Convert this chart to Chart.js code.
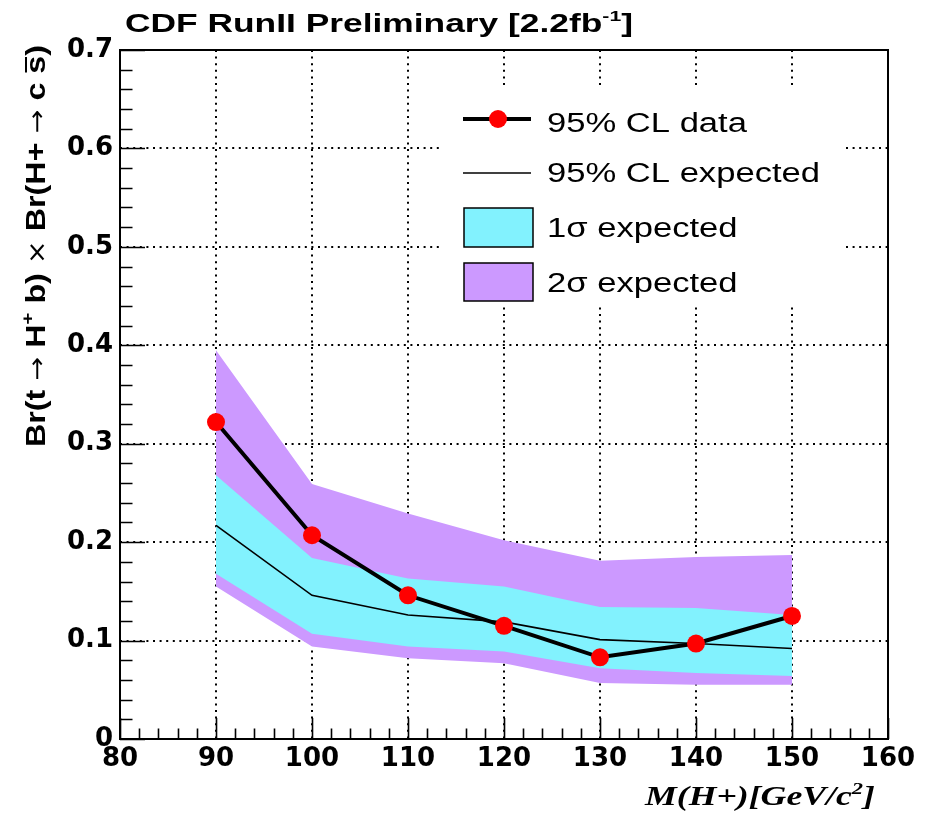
<!DOCTYPE html>
<html>
<head>
<meta charset="utf-8">
<script src="https://cdn.jsdelivr.net/npm/chart.js@4.4.1/dist/chart.umd.min.js"></script>
<style>
  html, body { margin: 0; padding: 0; background: #ffffff; }
  canvas { display: block; }
</style>
</head>
<body>
<canvas id="limits" width="927" height="815"></canvas>
<script>
// Charged Higgs mass points (GeV/c^2)
const masses = [90, 100, 110, 120, 130, 140, 150];

// 95% CL upper limits on Br(t -> H+ b) x Br(H+ -> c sbar)
const observedLimit = [0.322, 0.207, 0.146, 0.115, 0.083, 0.097, 0.125];
const expectedLimit = [0.217, 0.146, 0.126, 0.119, 0.101, 0.097, 0.092];

// Expected-limit bands
const oneSigmaUp   = [0.268, 0.184, 0.163, 0.155, 0.134, 0.133, 0.126];
const oneSigmaDown = [0.168, 0.107, 0.094, 0.089, 0.072, 0.067, 0.064];
const twoSigmaUp   = [0.395, 0.259, 0.229, 0.202, 0.181, 0.185, 0.187];
const twoSigmaDown = [0.155, 0.094, 0.082, 0.077, 0.057, 0.055, 0.055];

// Axis tick labels
const xTickLabels = ['80', '90', '100', '110', '120', '130', '140', '150', '160'];
const yTickLabels = ['0', '0.1', '0.2', '0.3', '0.4', '0.5', '0.6', '0.7'];

// Legend entries
const legendLabels = ['95% CL data', '95% CL expected', '1\u03c3 expected', '2\u03c3 expected'];

const CYAN = '#82F2FE';
const PURPLE = '#CC99FF';
const SANS = '"Liberation Sans", Arial, Helvetica, sans-serif';
const SERIF = '"Liberation Serif", "Times New Roman", serif';
const SYMB = '"DejaVu Sans", sans-serif';

const toPoints = vals => masses.map((m, i) => ({ x: m, y: vals[i] }));

// Draws a run of text pieces along a baseline, stretched horizontally by sx.
function drawRuns(ctx, runs, sx) {
  ctx.save();
  ctx.scale(sx, 1);
  let cx = 0;
  for (const r of runs) {
    ctx.font = r.font;
    const w = ctx.measureText(r.t).width;
    ctx.fillText(r.t, cx, r.dy || 0);
    if (r.bar) {
      ctx.lineWidth = 2;
      ctx.beginPath();
      ctx.moveTo(cx + 1, r.bar);
      ctx.lineTo(cx + w - 1, r.bar);
      ctx.stroke();
    }
    cx += w;
  }
  ctx.restore();
}
function runsWidth(ctx, runs) {
  let w = 0;
  for (const r of runs) { ctx.font = r.font; w += ctx.measureText(r.t).width; }
  return w;
}

// Frame, inward ticks, legend and titles in the ROOT style
const rootStyle = {
  id: 'rootStyle',
  afterDatasetsDraw(chart) {
    const { ctx, chartArea: a, scales: { x, y } } = chart;
    ctx.save();
    ctx.fillStyle = '#000';
    ctx.strokeStyle = '#000';
    ctx.textAlign = 'left';
    ctx.textBaseline = 'alphabetic';

    // legend
    ctx.fillStyle = '#ffffff';
    ctx.fillRect(443, 87, 402, 218);
    ctx.strokeStyle = '#000';
    ctx.lineWidth = 4;
    ctx.beginPath(); ctx.moveTo(463, 119); ctx.lineTo(531, 119); ctx.stroke();
    ctx.fillStyle = '#ff0000';
    ctx.beginPath(); ctx.arc(498, 119, 9, 0, Math.PI * 2); ctx.fill();
    ctx.lineWidth = 1.5;
    ctx.beginPath(); ctx.moveTo(463, 173); ctx.lineTo(531, 173); ctx.stroke();
    ctx.fillStyle = CYAN;
    ctx.fillRect(464, 208, 69, 39);
    ctx.strokeRect(464, 208, 69, 39);
    ctx.fillStyle = PURPLE;
    ctx.fillRect(464, 263, 69, 38);
    ctx.strokeRect(464, 263, 69, 38);

    ctx.fillStyle = '#000';
    const legFont = '27px ' + SANS;
    ctx.font = legFont;
    const legSx = 273 / ctx.measureText(legendLabels[1]).width;
    const baselines = [131.5, 181.5, 236.5, 291.5];
    legendLabels.forEach((t, i) => {
      ctx.save();
      ctx.translate(547, baselines[i]);
      drawRuns(ctx, [{ t, font: legFont }], legSx);
      ctx.restore();
    });

    // frame
    ctx.lineWidth = 2;
    ctx.strokeRect(a.left, a.top, a.right - a.left, a.bottom - a.top);

    // inward major/minor ticks
    ctx.lineWidth = 1.6;
    ctx.beginPath();
    for (let i = 0; i <= 35; i++) {
      const py = Math.round(y.getPixelForValue(i * 0.02)) + 0.5;
      const len = i % 5 === 0 ? 25 : 12.5;
      ctx.moveTo(a.left, py); ctx.lineTo(a.left + len, py);
    }
    for (let i = 0; i <= 40; i++) {
      const px = Math.round(x.getPixelForValue(80 + i * 2)) + 0.5;
      const len = i % 5 === 0 ? 21 : 10.5;
      ctx.moveTo(px, a.bottom); ctx.lineTo(px, a.bottom - len);
    }
    ctx.stroke();

    // plot title
    const tBig = 'bold 25px ' + SANS, tSmall = 'bold 15px ' + SANS;
    const titleRuns = [
      { t: 'CDF RunII Preliminary [2.2fb', font: tBig },
      { t: '-1', font: tSmall, dy: -11 },
      { t: ']', font: tBig }
    ];
    ctx.save();
    ctx.translate(125, 32);
    drawRuns(ctx, titleRuns, 508 / runsWidth(ctx, titleRuns));
    ctx.restore();

    // y-axis title
    const yB = 'bold 27px ' + SANS, yN = '24px ' + SYMB, yS = 'bold 17px ' + SANS;
    const yRuns = [
      { t: 'Br(t ', font: yB }, { t: '\u2192', font: yN }, { t: ' H', font: yB },
      { t: '+', font: yS, dy: -12 }, { t: ' b) ', font: yB }, { t: '\u00d7', font: yN },
      { t: ' Br(H+ ', font: yB }, { t: '\u2192', font: yN }, { t: ' c ', font: yB },
      { t: 's', font: yB, bar: -19 }, { t: ')', font: yB }
    ];
    ctx.save();
    ctx.translate(45, 447);
    ctx.rotate(-Math.PI / 2);
    drawRuns(ctx, yRuns, 402 / runsWidth(ctx, yRuns));
    ctx.restore();

    // x-axis title
    const xF = 'italic bold 27px ' + SERIF, xS = 'italic bold 17px ' + SERIF;
    const xRuns = [
      { t: 'M(H+)[GeV/c', font: xF },
      { t: '2', font: xS, dy: -11 },
      { t: ']', font: xF }
    ];
    ctx.save();
    ctx.translate(645, 805);
    drawRuns(ctx, xRuns, 230 / runsWidth(ctx, xRuns));
    ctx.restore();

    ctx.restore();
  }
};

const edgeColor = (edges) => (c) => (c.tick && edges.includes(Math.round(c.tick.value * 100) / 100)) ? 'rgba(0,0,0,0)' : '#000';

new Chart(document.getElementById('limits'), {
  type: 'line',
  data: {
    datasets: [
      {
        label: legendLabels[0], data: toPoints(observedLimit), order: 0,
        borderColor: '#000', borderWidth: 4, pointRadius: 9, pointHoverRadius: 9,
        pointBackgroundColor: '#ff0000', pointBorderWidth: 0, fill: false
      },
      {
        label: legendLabels[1], data: toPoints(expectedLimit), order: 1,
        borderColor: '#000', borderWidth: 1.6, pointRadius: 0, fill: false
      },
      {
        label: legendLabels[2], data: toPoints(oneSigmaUp), order: 2,
        borderColor: 'rgba(0,0,0,0)', borderWidth: 0, pointRadius: 0,
        backgroundColor: CYAN, fill: '+1'
      },
      {
        label: '1\u03c3 low', data: toPoints(oneSigmaDown), order: 3,
        borderColor: 'rgba(0,0,0,0)', borderWidth: 0, pointRadius: 0, fill: false
      },
      {
        label: legendLabels[3], data: toPoints(twoSigmaUp), order: 4,
        borderColor: 'rgba(0,0,0,0)', borderWidth: 0, pointRadius: 0,
        backgroundColor: PURPLE, fill: '+1'
      },
      {
        label: '2\u03c3 low', data: toPoints(twoSigmaDown), order: 5,
        borderColor: 'rgba(0,0,0,0)', borderWidth: 0, pointRadius: 0, fill: false
      }
    ]
  },
  options: {
    responsive: false,
    animation: false,
    events: [],
    layout: { padding: { left: 0, right: 39, top: 50, bottom: 0 } },
    plugins: {
      legend: { display: false },
      title: { display: false },
      tooltip: { enabled: false }
    },
    scales: {
      x: {
        type: 'linear', min: 80, max: 160,
        ticks: {
          stepSize: 10, padding: 5, color: '#000',
          font: { family: '"DejaVu Sans"', size: 26, weight: 'bold' },
          callback: (v, i) => xTickLabels[i]
        },
        grid: { color: edgeColor([80, 160]), lineWidth: 2, drawTicks: false },
        border: { display: false, dash: [2, 4.6] },
        afterFit: s => { s.height = 76; s.paddingLeft = 0; s.paddingRight = 0; }
      },
      y: {
        type: 'linear', min: 0, max: 0.7,
        ticks: {
          stepSize: 0.1, padding: 7, color: '#000',
          font: { family: '"DejaVu Sans"', size: 26, weight: 'bold' },
          callback: (v, i) => yTickLabels[i]
        },
        grid: { color: edgeColor([0, 0.7]), lineWidth: 2, drawTicks: false },
        border: { display: false, dash: [2, 4.6] },
        afterFit: s => { s.width = 120; s.paddingTop = 0; s.paddingBottom = 0; }
      }
    }
  },
  plugins: [rootStyle]
});
</script>
</body>
</html>
